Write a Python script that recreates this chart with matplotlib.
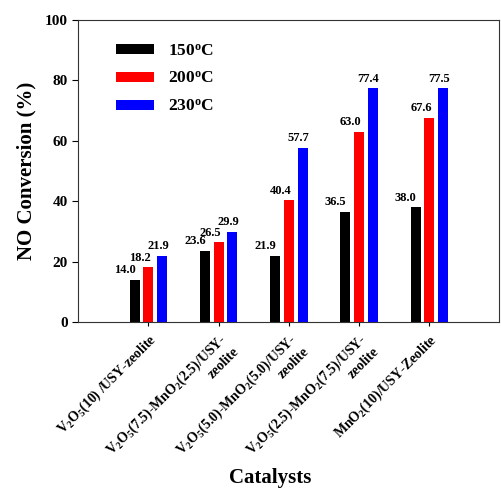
import numpy as np
import matplotlib
matplotlib.use('Agg')
import matplotlib.pyplot as plt

plt.rcParams['font.family'] = ['Liberation Serif', 'DejaVu Serif']
plt.rcParams['font.weight'] = 'bold'
plt.rcParams['mathtext.fontset'] = 'custom'
plt.rcParams['mathtext.rm'] = 'Liberation Serif:bold'
plt.rcParams['mathtext.bf'] = 'Liberation Serif:bold'
plt.rcParams['mathtext.it'] = 'Liberation Serif:bold'

# data
catalysts = [
    'V$_2$O$_5$(10) /USY-zeolite',
    'V$_2$O$_5$(7.5)-MnO$_2$(2.5)/USY-\nzeolite',
    'V$_2$O$_5$(5.0)-MnO$_2$(5.0)/USY-\nzeolite',
    'V$_2$O$_5$(2.5)-MnO$_2$(7.5)/USY-\nzeolite',
    'MnO$_2$(10)/USY-Zeolite',
]
temps = ['150$^\\mathrm{o}$C', '200$^\\mathrm{o}$C', '230$^\\mathrm{o}$C']
conv_150 = [14.0, 23.6, 21.9, 36.5, 38.0]
conv_200 = [18.2, 26.5, 40.4, 63.0, 67.6]
conv_230 = [21.9, 29.9, 57.7, 77.4, 77.5]

colors = ['black', 'red', 'blue']
label_dx = [-7, -6, -3]   # label offsets in points

fig = plt.figure(figsize=(5.01, 4.88), dpi=100)
ax = fig.add_axes([0.156, 0.340, 0.841, 0.619])

x = np.arange(len(catalysts))
width = 0.142
step = 0.195
series = [conv_150, conv_200, conv_230]
for i, vals in enumerate(series):
    pos = x + (i - 1) * step
    bars = ax.bar(pos, vals, width, color=colors[i], label=temps[i])
    for b, v in zip(bars, vals):
        ax.annotate(f'{v:.1f}', (b.get_x() + b.get_width() / 2, v),
                    xytext=(label_dx[i], 2.5), textcoords='offset points',
                    ha='center', va='bottom', fontsize=9, fontweight='bold')

ax.set_xlim(-1, 5)
ax.set_ylim(0, 100)
ax.set_yticks([0, 20, 40, 60, 80, 100])
ax.set_xticks(x)
ax.set_xticklabels(catalysts, rotation=45, ha='right', va='top',
                   rotation_mode='anchor', multialignment='right', fontsize=10)
ax.tick_params(axis='y', labelsize=11, direction='out', length=4)
ax.tick_params(axis='x', direction='out', length=3)
for s in ax.spines.values():
    s.set_color('#333333')

ax.set_ylabel('NO Conversion (%)', fontsize=15, fontweight='bold', labelpad=6)
fig.text(0.54, 0.01, 'Catalysts', fontsize=15, fontweight='bold', ha='center')

ax.legend(loc='upper left', bbox_to_anchor=(0.052, 0.975), frameon=False,
          fontsize=12.5, handlelength=2.2, handleheight=0.5, labelspacing=0.68)

plt.savefig('out.png', dpi=100)
